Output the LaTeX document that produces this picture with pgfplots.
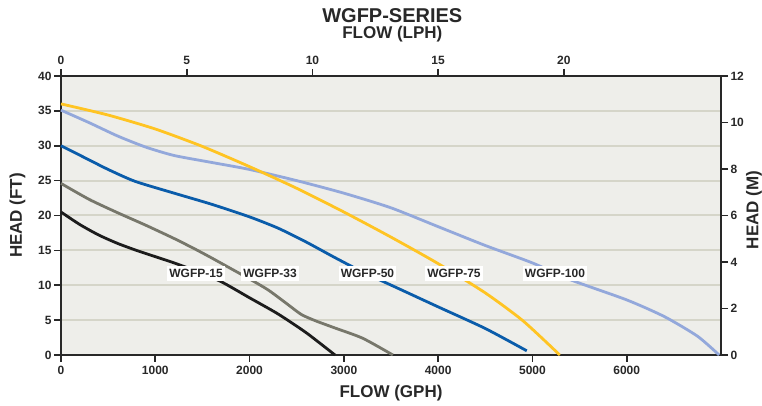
\documentclass[border=0pt]{standalone}
\usepackage{fontspec}
\setmainfont{Liberation Sans}
\usepackage{pgfplots}
\pgfplotsset{compat=1.18}
\definecolor{bgcol}{RGB}{238,238,234}
\definecolor{gridcol}{RGB}{213,213,201}
\definecolor{axiscol}{RGB}{40,40,40}
\definecolor{cyellow}{RGB}{255,196,35}
\definecolor{cdblue}{RGB}{10,92,170}
\definecolor{clblue}{RGB}{147,168,219}
\definecolor{cgray}{RGB}{119,119,107}
\definecolor{cblack}{RGB}{28,28,28}
\pgfplotsset{
  common/.style={
    scale only axis, width=660pt, height=279pt,
    tick align=outside, major tick length=7pt,
    axis line style={line width=1.6pt, axiscol},
    tick style={line width=1.6pt, axiscol},
    tick label style={font=\fontsize{12}{14}\selectfont\bfseries, text=axiscol},
    /pgf/number format/assume math mode=true,
    /pgf/number format/1000 sep={},
    scaled ticks=false,
    minor tick num=0,
  }
}
\begin{document}
\begin{tikzpicture}
\begin{axis}[common,
  xmin=0, xmax=7000, ymin=0, ymax=40,
  axis background/.style={fill=bgcol},
  xtick={0,1000,...,6000}, ytick={0,5,...,40},
  xtick pos=left, ytick pos=left,
  ymajorgrids, grid style={gridcol, line width=2pt},
  xticklabel style={yshift=-1pt},
  yticklabel style={xshift=1pt},
  clip=false,
]
\coordinate (BL) at (rel axis cs:0,0);
\coordinate (TR) at (rel axis cs:1,1);
% WGFP-100
\addplot[clblue, line width=2.8pt, smooth, tension=0.4] coordinates {
(0,35.1)(300,33.3)(600,31.4)(900,29.8)(1200,28.6)(1600,27.6)(2000,26.6)(2500,25.0)(3000,23.2)(3500,21.1)(4000,18.4)(4500,15.7)(5000,13.2)(5400,10.8)(6000,7.9)(6400,5.5)(6750,2.7)(6980,0)};
% WGFP-75
\addplot[cyellow, line width=2.8pt, smooth, tension=0.4] coordinates {
(0,36.0)(500,34.4)(1000,32.4)(1500,29.9)(2000,27.0)(2500,23.9)(3000,20.5)(3500,16.9)(4000,13.1)(4500,8.9)(4900,4.9)(5290,0)};
% WGFP-50
\addplot[cdblue, line width=2.8pt, smooth, tension=0.4] coordinates {
(0,30.0)(250,28.3)(500,26.6)(785,24.9)(1200,23.2)(1600,21.6)(2000,19.8)(2300,18.2)(2600,16.2)(2900,14.0)(3200,11.9)(3600,9.4)(4000,6.9)(4500,3.8)(4940,0.6)};
% WGFP-33
\addplot[cgray, line width=2.8pt, smooth, tension=0.4] coordinates {
(0,24.6)(300,22.3)(600,20.4)(900,18.6)(1200,16.7)(1420,15.2)(1600,13.9)(1800,12.4)(2000,10.9)(2200,9.3)(2400,7.3)(2550,5.8)(2700,4.9)(2900,3.9)(3200,2.4)(3520,0)};
% WGFP-15
\addplot[cblack, line width=2.8pt, smooth, tension=0.4] coordinates {
(0,20.5)(200,18.7)(400,17.2)(600,16.0)(800,15.0)(1000,14.1)(1200,13.2)(1400,12.2)(1700,10.5)(2000,8.2)(2300,5.9)(2600,3.2)(2906,0)};
\tikzset{lbl/.style={fill=white, inner xsep=2pt, inner ysep=3pt, text=axiscol, font=\fontsize{12}{14}\selectfont\bfseries}}
\node[lbl] at (axis cs:1432,11.67) {WGFP-15};
\node[lbl] at (axis cs:2217,11.67) {WGFP-33};
\node[lbl] at (axis cs:3250,11.67) {WGFP-50};
\node[lbl] at (axis cs:4168,11.67) {WGFP-75};
\node[lbl] at (axis cs:5239,11.67) {WGFP-100};
\node[font=\fontsize{17}{20}\selectfont\bfseries, text=axiscol, anchor=center] at (rel axis cs:0.5,-0.136) {FLOW (GPH)};
\node[font=\fontsize{17}{20}\selectfont\bfseries, text=axiscol, anchor=center, rotate=90] at (rel axis cs:-0.0659,0.5) {HEAD (FT)};
\node[font=\fontsize{17}{20}\selectfont\bfseries, text=axiscol, anchor=center, rotate=90] at (rel axis cs:1.05,0.52) {HEAD (M)};
\node[font=\fontsize{20}{24}\selectfont\bfseries, text=axiscol, anchor=center] at (rel axis cs:0.502,1.216) {WGFP-SERIES};
\node[font=\fontsize{17}{20}\selectfont\bfseries, text=axiscol, anchor=center] at (rel axis cs:0.502,1.149) {FLOW (LPH)};
\end{axis}
\begin{axis}[common,
  xmin=0, xmax=26.25, ymin=0, ymax=12,
  axis x line*=top, axis y line*=right,
  xtick={0,5,...,20}, ytick={0,2,...,12},
  xticklabel style={yshift=1pt},
  yticklabel style={xshift=-1pt},
]
\addplot[draw=none] coordinates {(0,0)};
\end{axis}
\pgfresetboundingbox
\path[use as bounding box] ([shift={(-61pt,-51pt)}]BL) rectangle ([shift={(41pt,76pt)}]TR);
\end{tikzpicture}
\end{document}
